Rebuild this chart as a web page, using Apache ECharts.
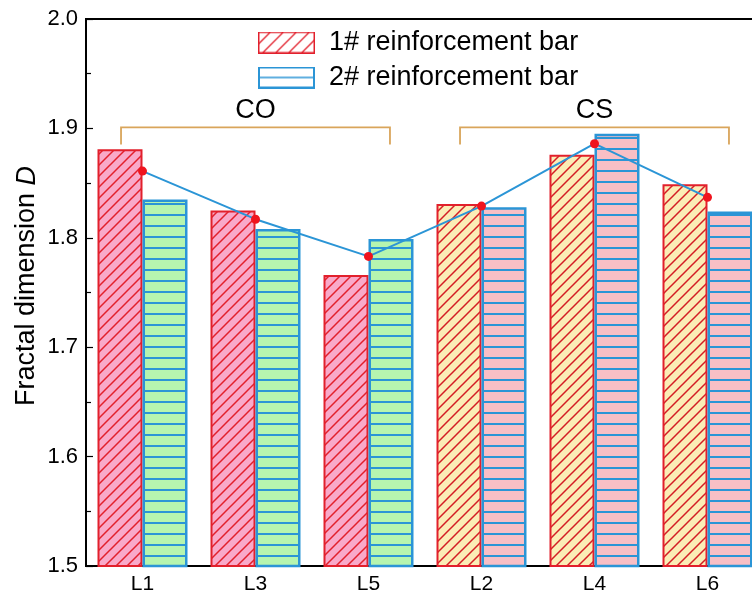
<!DOCTYPE html>
<html>
<head>
<meta charset="utf-8">
<script src="https://cdn.jsdelivr.net/npm/echarts@6/dist/echarts.min.js"></script>
<style>
  html, body { margin: 0; padding: 0; background: #fff; overflow: hidden; }
  #chart { width: 764px; height: 595px; }
</style>
</head>
<body>
<div id="chart"></div>
<script>
// Specimen labels, grouped by corrosion condition
const categories = ['L1', 'L3', 'L5', 'L2', 'L4', 'L6'];
const seriesNames = ['1# reinforcement bar', '2# reinforcement bar'];
const bar1Values = [1.881, 1.825, 1.766, 1.831, 1.876, 1.849];
const bar2Values = [1.835, 1.808, 1.799, 1.828, 1.895, 1.824];
const meanValues = [1.861, 1.817, 1.783, 1.829, 1.886, 1.837];
const yTicks = [1.5, 1.6, 1.7, 1.8, 1.9, 2.0];
const yTitle = 'Fractal dimension {i|D}';
// Groups: first index, last index, label
const groupStart = [0, 3];
const groupEnd = [2, 5];
const groupNames = ['CO', 'CS'];
const bracketLevel = 1.9;

const RED = '#E2202C';
const BLUE = '#2B95D6';
const PINK = '#F9A9C9';
const GREEN = '#B6F5AF';
const YELLOW = '#FBEDB6';
const SALMON = '#F8BFC5';
const BRACKET = '#D9A55B';
const FONT = 'Liberation Sans, Arial, sans-serif';

function hatchPattern(bg, lineColor, size, lw) {
  const c = document.createElement('canvas');
  c.width = size; c.height = size;
  const ctx = c.getContext('2d');
  ctx.fillStyle = bg; ctx.fillRect(0, 0, size, size);
  ctx.strokeStyle = lineColor; ctx.lineWidth = lw;
  ctx.beginPath();
  ctx.moveTo(-1, size + 1); ctx.lineTo(size + 1, -1);
  ctx.moveTo(-2, 2); ctx.lineTo(2, -2);
  ctx.moveTo(size - 2, size + 2); ctx.lineTo(size + 2, size - 2);
  ctx.stroke();
  return { image: c, repeat: 'repeat' };
}
function stripePattern(bg, lineColor, size, lw) {
  const c = document.createElement('canvas');
  c.width = size; c.height = size;
  const ctx = c.getContext('2d');
  ctx.fillStyle = bg; ctx.fillRect(0, 0, size, size);
  ctx.fillStyle = lineColor;
  ctx.fillRect(0, Math.round(size / 2 - lw / 2), size, lw);
  return { image: c, repeat: 'repeat' };
}
function legendIcon(kind) {
  const w = 57, h = 22;
  const c = document.createElement('canvas');
  c.width = w; c.height = h;
  const ctx = c.getContext('2d');
  ctx.fillStyle = '#fff'; ctx.fillRect(0, 0, w, h);
  if (kind === 0) {
    ctx.strokeStyle = RED; ctx.lineWidth = 1.3;
    ctx.save();
    ctx.beginPath(); ctx.rect(1, 1, w - 2, h - 2); ctx.clip();
    ctx.beginPath();
    for (let x = -h; x < w + h; x += 13) {
      ctx.moveTo(x, h); ctx.lineTo(x + h, 0);
    }
    ctx.stroke();
    ctx.restore();
    ctx.lineWidth = 1.5;
    ctx.strokeRect(0.75, 0.75, w - 1.5, h - 1.5);
  } else {
    ctx.strokeStyle = BLUE; ctx.lineWidth = 1.5;
    ctx.beginPath(); ctx.moveTo(0, h / 2); ctx.lineTo(w, h / 2); ctx.stroke();
    ctx.lineWidth = 2;
    ctx.strokeRect(1, 1, w - 2, h - 2);
  }
  return 'image://' + c.toDataURL();
}

const hatchCO = hatchPattern(PINK, RED, 11, 1.5);
const hatchCS = hatchPattern(YELLOW, '#D41E24', 11, 1.5);
const stripeCO = stripePattern(GREEN, BLUE, 11, 2);
const stripeCS = stripePattern(SALMON, BLUE, 11, 2);

const isCO = i => i <= groupEnd[0];
const bar1Data = bar1Values.map((v, i) => ({
  value: v,
  itemStyle: { color: isCO(i) ? hatchCO : hatchCS, borderColor: RED, borderWidth: 2 }
}));
const bar2Data = bar2Values.map((v, i) => ({
  value: v,
  itemStyle: { color: isCO(i) ? stripeCO : stripeCS, borderColor: BLUE, borderWidth: 2.5 }
}));
const groupData = groupStart.map((s, i) => [s, groupEnd[i]]);

const chart = echarts.init(document.getElementById('chart'), null, { renderer: 'canvas' });
chart.setOption({
  animation: false,
  backgroundColor: '#fff',
  textStyle: { fontFamily: FONT },
  grid: {
    left: 86, top: 19, bottom: 28, right: 0,
    show: true, borderColor: '#000', borderWidth: 2, backgroundColor: 'transparent'
  },
  // Vertical axis title
  graphic: [{
    type: 'text',
    x: 27, y: 286,
    rotation: Math.PI / 2,
    silent: true,
    style: {
      text: yTitle,
      fontSize: 27, fontFamily: FONT, fill: '#000',
      align: 'center', verticalAlign: 'middle',
      rich: { i: { fontSize: 27, fontStyle: 'italic', fontFamily: FONT, fill: '#000' } }
    }
  }],
  legend: {
    orient: 'vertical',
    left: 258, top: 29, padding: 0,
    itemWidth: 57, itemHeight: 22, itemGap: 8,
    textStyle: { fontSize: 27, color: '#000', fontFamily: FONT, padding: [0, 0, 0, 9] },
    data: [
      { name: seriesNames[0], icon: legendIcon(0) },
      { name: seriesNames[1], icon: legendIcon(1) }
    ]
  },
  xAxis: {
    type: 'category',
    data: categories,
    axisLine: { lineStyle: { color: '#000', width: 1.5 } },
    axisTick: { show: false },
    axisLabel: { fontSize: 21, color: '#000', margin: 8, fontFamily: FONT }
  },
  yAxis: {
    type: 'value',
    min: yTicks[0], max: yTicks[yTicks.length - 1], interval: 0.1,
    axisLine: { show: true, lineStyle: { color: '#000', width: 1.5 } },
    axisTick: { show: true, inside: true, length: 7, lineStyle: { color: '#000', width: 1.2 } },
    minorTick: { show: true, splitNumber: 2, length: 5, lineStyle: { color: '#000', width: 1.2 } },
    splitLine: { show: false },
    axisLabel: { fontSize: 22, color: '#000', margin: 8, fontFamily: FONT, formatter: v => v.toFixed(1) }
  },
  series: [
    {
      name: seriesNames[0], type: 'bar', data: bar1Data,
      barWidth: 45, barGap: '0%', z: 2
    },
    {
      name: seriesNames[1], type: 'bar', data: bar2Data,
      barWidth: 45, barGap: '0%', z: 2
    },
    {
      name: 'mean', type: 'line', data: meanValues, z: 5,
      symbol: 'circle', symbolSize: 9,
      lineStyle: { color: BLUE, width: 2 },
      itemStyle: { color: '#F0141E', borderWidth: 0 }
    },
    {
      name: 'groups', type: 'custom', data: groupData, z: 4,
      encode: { x: [0, 1] }, clip: false, silent: true,
      renderItem: function (params, api) {
        const band = api.size([1, 0])[0];
        const p1 = api.coord([api.value(0), bracketLevel]);
        const p2 = api.coord([api.value(1), bracketLevel]);
        const x1 = p1[0] - 0.19 * band;
        const x2 = p2[0] + 0.19 * band;
        const y = p1[1] - 1;
        const drop = 17;
        return {
          type: 'group',
          children: [
            {
              type: 'polyline',
              shape: { points: [[x1, y + drop], [x1, y], [x2, y], [x2, y + drop]] },
              style: { stroke: BRACKET, lineWidth: 1.8, fill: null }
            },
            {
              type: 'text',
              style: {
                text: groupNames[params.dataIndex], x: (x1 + x2) / 2, y: y - 17,
                align: 'center', verticalAlign: 'middle',
                fontSize: 27, fill: '#000', fontFamily: FONT
              }
            }
          ]
        };
      }
    }
  ]
});
</script>
</body>
</html>
